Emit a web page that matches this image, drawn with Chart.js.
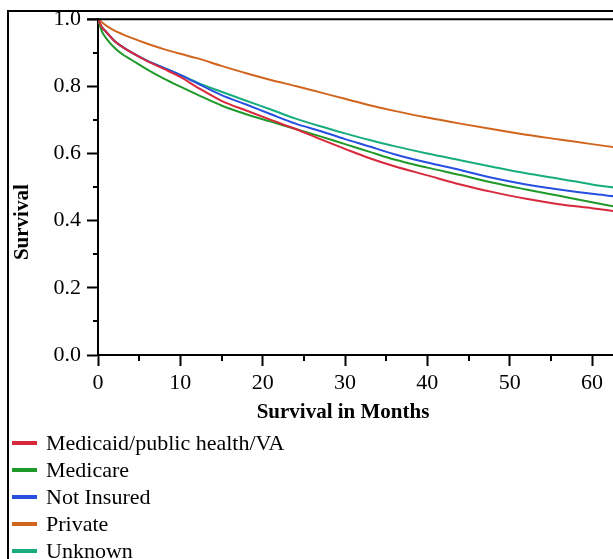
<!DOCTYPE html>
<html>
<head>
<meta charset="utf-8">
<script src="https://cdn.jsdelivr.net/npm/chart.js@4/dist/chart.umd.min.js"></script>
<style>
  html, body { margin: 0; padding: 0; background: #fff; overflow: hidden; }
  #wrap { position: relative; width: 613px; height: 559px; }
  #frame { position: absolute; left: 7px; top: 10px; right: -10px; bottom: -10px;
           border-top: 2px solid #000; border-left: 2px solid #000; pointer-events: none; }
  canvas { position: absolute; left: 0; top: 0; }
  #legend { position: absolute; left: 12px; top: 429px; font-family: 'Liberation Serif', serif;
            font-size: 22px; line-height: 27px; color: #000; }
  .item { display: flex; align-items: center; white-space: nowrap; }
  .swatch { width: 25px; height: 4px; margin-right: 9px; }
</style>
</head>
<body>
<div id="wrap">
  <canvas id="c" width="613" height="559"></canvas>
  <div id="frame"></div>
  <div id="legend"></div>
</div>
<script>
// ---- data ----
const seriesNames = ['Medicaid/public health/VA', 'Medicare', 'Not Insured', 'Private', 'Unknown'];
const seriesColors = ['#d7283c', '#1f9a2a', '#2750e0', '#d2651e', '#17ad7f'];
const months = [0, 0.5, 1, 2, 3, 4, 6, 8, 10, 12, 15, 18, 21, 24, 27, 30, 33, 36, 40, 44, 48, 52, 56, 60, 62.6];
const medicaid  = [1, 0.975, 0.962, 0.935, 0.917, 0.902, 0.875, 0.852, 0.828, 0.798, 0.757, 0.728, 0.700, 0.673, 0.643, 0.614, 0.586, 0.562, 0.535, 0.508, 0.485, 0.465, 0.449, 0.437, 0.429];
const medicare  = [1, 0.962, 0.943, 0.915, 0.895, 0.880, 0.850, 0.823, 0.799, 0.776, 0.743, 0.717, 0.695, 0.673, 0.651, 0.628, 0.605, 0.582, 0.558, 0.536, 0.513, 0.493, 0.474, 0.455, 0.443];
const notInsured= [1, 0.975, 0.962, 0.935, 0.917, 0.902, 0.876, 0.855, 0.834, 0.810, 0.774, 0.746, 0.717, 0.689, 0.667, 0.643, 0.621, 0.598, 0.573, 0.551, 0.527, 0.508, 0.493, 0.480, 0.473];
const privateIns= [1, 0.990, 0.981, 0.966, 0.955, 0.945, 0.927, 0.911, 0.897, 0.884, 0.861, 0.839, 0.819, 0.801, 0.782, 0.763, 0.744, 0.727, 0.707, 0.689, 0.672, 0.656, 0.642, 0.628, 0.619];
const unknown   = [1, 0.975, 0.962, 0.935, 0.917, 0.902, 0.876, 0.855, 0.834, 0.812, 0.784, 0.757, 0.731, 0.704, 0.681, 0.660, 0.640, 0.622, 0.600, 0.580, 0.560, 0.541, 0.525, 0.508, 0.499];
const seriesValues = [medicaid, medicare, notInsured, privateIns, unknown];
const xTickValues = [0, 10, 20, 30, 40, 50, 60];
const xMinorTicks = [5, 15, 25, 35, 45, 55];
const yTickValues = [0, 0.2, 0.4, 0.6, 0.8, 1.0];
const yMinorTicks = [0.1, 0.3, 0.5, 0.7, 0.9];
const xTitle = 'Survival in Months';
const yTitle = 'Survival';

Chart.defaults.font.family = "'Liberation Serif', serif";
Chart.defaults.font.size = 22;
Chart.defaults.color = '#000';

const datasets = seriesNames.map((name, i) => ({
  label: name,
  data: months.map((m, j) => ({ x: m, y: seriesValues[i][j] })),
  borderColor: seriesColors[i],
  backgroundColor: seriesColors[i],
  borderWidth: 2,
  pointRadius: 0,
  cubicInterpolationMode: 'monotone',
  fill: false
}));

const extras = {
  id: 'extras',
  afterDraw(chart) {
    const ctx = chart.ctx;
    const ca = chart.chartArea;
    const xs = chart.scales.x, ys = chart.scales.y;
    ctx.save();
    ctx.strokeStyle = '#000';
    ctx.lineWidth = 2;
    // top border of plot
    ctx.beginPath();
    ctx.moveTo(ca.left - 11, ca.top);
    ctx.lineTo(ca.right + 5, ca.top);
    ctx.stroke();
    // minor ticks
    ctx.beginPath();
    xMinorTicks.forEach(v => {
      const px = Math.round(xs.getPixelForValue(v));
      ctx.moveTo(px, ca.bottom); ctx.lineTo(px, ca.bottom + 6);
    });
    yMinorTicks.forEach(v => {
      const py = Math.round(ys.getPixelForValue(v));
      ctx.moveTo(ca.left - 5, py); ctx.lineTo(ca.left, py);
    });
    ctx.stroke();
    // axis titles
    ctx.fillStyle = '#000';
    ctx.font = "bold 21px 'Liberation Serif', serif";
    ctx.textAlign = 'center';
    ctx.textBaseline = 'alphabetic';
    ctx.fillText(xTitle, ca.left + 245, ca.bottom + 63);
    ctx.translate(28, ca.top + 203);
    ctx.rotate(-Math.PI / 2);
    ctx.fillText(yTitle, 0, 0);
    ctx.restore();
  }
};

const chart = new Chart(document.getElementById('c'), {
  type: 'line',
  data: { datasets },
  options: {
    responsive: false,
    animation: false,
    devicePixelRatio: 1,
    layout: { padding: { top: 19, left: 0, right: 0, bottom: 0 } },
    plugins: { legend: { display: false }, tooltip: { enabled: false } },
    scales: {
      x: {
        type: 'linear',
        min: 0, max: 62.55,
        afterBuildTicks: s => { s.ticks = xTickValues.map(v => ({ value: v })); },
        afterFit: s => { s.height = 204; },
        ticks: { padding: 4, maxRotation: 0, autoSkip: false, callback: v => String(v) },
        grid: { drawOnChartArea: false, drawTicks: true, tickLength: 11, tickColor: '#000', tickWidth: 2 },
        border: { display: true, color: '#000', width: 2 }
      },
      y: {
        type: 'linear',
        min: 0, max: 1,
        afterBuildTicks: s => { s.ticks = yTickValues.map(v => ({ value: v })); },
        afterFit: s => { s.width = 98; },
        ticks: { padding: 6, callback: v => Number(v).toFixed(1) },
        grid: { drawOnChartArea: false, drawTicks: true, tickLength: 11, tickColor: '#000', tickWidth: 2 },
        border: { display: true, color: '#000', width: 2 }
      }
    }
  },
  plugins: [extras]
});

// legend built from chart datasets
const leg = document.getElementById('legend');
chart.data.datasets.forEach(ds => {
  const row = document.createElement('div');
  row.className = 'item';
  const sw = document.createElement('span');
  sw.className = 'swatch';
  sw.style.background = ds.borderColor;
  const tx = document.createElement('span');
  tx.textContent = ds.label;
  row.appendChild(sw); row.appendChild(tx);
  leg.appendChild(row);
});
</script>
</body>
</html>
